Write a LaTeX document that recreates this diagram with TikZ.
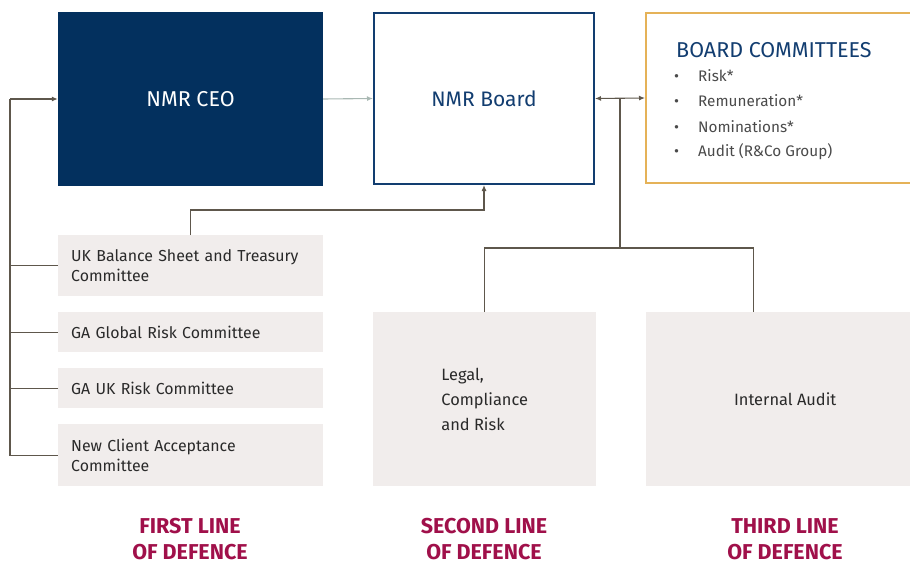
\documentclass[tikz,border=0pt]{standalone}
\usepackage{fontspec}
\setmainfont{Fira Sans}
\usetikzlibrary{arrows.meta,calc}
\definecolor{navy}{HTML}{03305E}
\definecolor{boardblue}{HTML}{123D70}
\definecolor{gold}{HTML}{E5B258}
\definecolor{conn}{HTML}{5E574C}
\definecolor{lightconn}{HTML}{A9B8B3}
\definecolor{panel}{HTML}{F1EDEC}
\definecolor{crimson}{HTML}{A0104A}
\definecolor{bullettext}{HTML}{4A4A4A}
\definecolor{bodytext}{HTML}{2A2A2A}
\tikzset{
  ceobox/.style={rectangle, fill=navy, text=white, minimum width=265pt, minimum height=174pt, inner sep=0pt, font=\fontsize{21.5}{25}\selectfont},
  boardbox/.style={rectangle, draw=boardblue, line width=2pt, fill=white, text=boardblue, minimum width=220pt, minimum height=171pt, inner sep=0pt, font=\fontsize{21}{25}\selectfont},
  bcbox/.style={rectangle, draw=gold, line width=2pt, minimum width=268pt, minimum height=170pt, inner sep=0pt},
  cttee/.style={rectangle, fill=panel, anchor=north west, minimum width=265pt, text width=239pt, inner xsep=13pt, inner ysep=0pt, align=left, text=bodytext, font=\fontsize{15.9}{20}\selectfont},
  linebox/.style={rectangle, fill=panel, anchor=north west, minimum width=223pt, minimum height=174pt, inner sep=0pt, align=left, text=bodytext, font=\fontsize{16.4}{25}\selectfont},
  bctitle/.style={anchor=base west, inner sep=0pt, text=boardblue, font=\fontsize{21.5}{25}\selectfont},
  bcitem/.style={anchor=base west, inner sep=0pt, text=bullettext, font=\fontsize{15.3}{18}\selectfont},
  lod/.style={align=center, text=crimson, inner sep=0pt, font=\fontsize{21.5}{26}\selectfont\bfseries},
  conline/.style={draw=conn, line width=1.1pt},
  tip/.style={-{Latex[length=6pt,width=5pt]}},
}
\begin{document}
\begin{tikzpicture}[x=1pt,y=-1pt]
\useasboundingbox (0,0) rectangle (910,567);
% top row
\node[ceobox] (ceo) at (190.5,99) {NMR CEO};
\node[boardbox] (board) at (484,98.5) {NMR Board};
\node[bcbox] (bc) at (780,98) {};
\node[bctitle] (bct) at (676,58) {BOARD COMMITTEES};
\node[bcitem] (b1) at (674,82) {\makebox[24pt][l]{\textbullet}Risk*};
\node[bcitem] (b2) at (674,107) {\makebox[24pt][l]{\textbullet}Remuneration*};
\node[bcitem] (b3) at (674,132) {\makebox[24pt][l]{\textbullet}Nominations*};
\node[bcitem] (b4) at (674,157) {\makebox[24pt][l]{\textbullet}Audit (R\&Co Group)};
% first line committees
\node[cttee, minimum height=61pt] (ukbs) at (58,235) {UK Balance Sheet and Treasury\\Committee};
\node[cttee, minimum height=40pt] (gagr) at (58,312) {GA Global Risk Committee};
\node[cttee, minimum height=40pt] (gauk) at (58,368) {GA UK Risk Committee};
\node[cttee, minimum height=62pt] (nca) at (58,424) {New Client Acceptance\\Committee};
% second and third line
\node[linebox] (legal) at (373,312) {Legal,\\Compliance\\and Risk};
\node[linebox, minimum width=278pt] (audit) at (646,312) {Internal Audit};
% labels
\node[lod] (l1) at (190,539.5) {FIRST LINE\\OF DEFENCE};
\node[lod] (l2) at (484,539.5) {SECOND LINE\\OF DEFENCE};
\node[lod] (l3) at (785,539.5) {THIRD LINE\\OF DEFENCE};
% connectors
\draw[draw=lightconn, line width=1.1pt, -{Latex[length=6pt,width=5pt]}] (ceo.east) -- (board.west);
\draw[conline, {Latex[length=6pt,width=5pt]}-{Latex[length=6pt,width=5pt]}] (board.east) -- (bc.west);
\coordinate (j1) at (620,98.5);
\coordinate (j2) at (620,248);
\draw[conline] (j1) -- (j2);
\draw[conline] (legal.north) |- (j2) -| ([xshift=-32pt]audit.north);
\coordinate (loop) at (10,99);
\draw[conline, tip] (loop) -- (ceo.west);
\draw[conline] (loop) |- (nca.west);
\draw[conline] (ukbs.west) -- (ukbs.west -| loop);
\draw[conline] (gagr.west) -- (gagr.west -| loop);
\draw[conline] (gauk.west) -- (gauk.west -| loop);
\draw[conline, tip] (ukbs.north) |- ([yshift=-25pt]board.south) -- (board.south);
\end{tikzpicture}
\end{document}
